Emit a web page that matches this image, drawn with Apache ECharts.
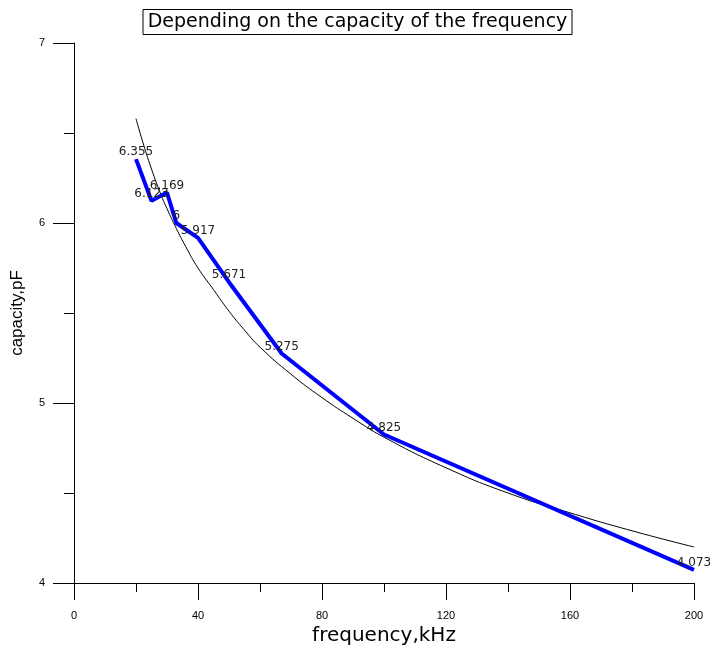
<!DOCTYPE html>
<html>
<head>
<meta charset="utf-8">
<script src="https://cdn.jsdelivr.net/npm/echarts@6/dist/echarts.min.js"></script>
<style>html,body{margin:0;padding:0;background:#fff}#c{width:715px;height:648px}</style>
</head>
<body>
<div id="c"></div>
<script>
// measured data (blue)
const freq = [20, 25, 30, 33, 40, 50, 67, 100, 200];
const capacity = [6.355, 6.123, 6.169, 6, 5.917, 5.671, 5.275, 4.825, 4.073];
// fitted curve (black)
const fitFreq = [20, 22, 25, 28, 30, 33, 36, 40, 45, 50, 55, 60, 70, 80, 90, 100, 120, 140, 160, 180, 200];
const fitCap = [6.58, 6.46, 6.30, 6.16, 6.08, 5.97, 5.87, 5.75, 5.63, 5.51, 5.405, 5.31, 5.16, 5.03, 4.915, 4.81, 4.64, 4.50, 4.39, 4.29, 4.20];
const xTicks = [0, 40, 80, 120, 160, 200];
const yTicks = [4, 5, 6, 7];

const arial = 'Liberation Sans, Arial, sans-serif';
const wide = 'DejaVu Sans, sans-serif';
const chart = echarts.init(document.getElementById('c'), null, {renderer: 'canvas'});
chart.setOption({
  animation: false,
  backgroundColor: '#fff',
  title: {
    text: 'Depending on the capacity of the frequency',
    left: 'center',
    top: 9,
    padding: [4, 5, 3, 5],
    borderColor: '#000',
    borderWidth: 1,
    textStyle: {fontFamily: wide, fontSize: 19, fontWeight: 'normal', color: '#000'}
  },
  grid: {left: 74, right: 21, top: 43, bottom: 65, containLabel: false, outerBoundsMode: 'none'},
  xAxis: {
    type: 'value', min: xTicks[0], max: xTicks[xTicks.length - 1], interval: 40,
    name: 'frequency,kHz', nameLocation: 'middle', nameGap: 41,
    nameTextStyle: {fontFamily: wide, fontSize: 20, color: '#000'},
    axisLine: {show: true, lineStyle: {color: '#000', width: 1}},
    axisTick: {show: true, length: 17, lineStyle: {color: '#000'}},
    minorTick: {show: true, splitNumber: 2, length: 9, lineStyle: {color: '#000'}},
    splitLine: {show: false},
    axisLabel: {margin: 27, fontFamily: arial, fontSize: 11, color: '#000'}
  },
  yAxis: {
    type: 'value', min: yTicks[0], max: yTicks[yTicks.length - 1], interval: 1,
    name: 'capacity,pF', nameLocation: 'middle', nameGap: 48,
    nameTextStyle: {fontFamily: arial, fontSize: 17, color: '#000'},
    axisLine: {show: true, lineStyle: {color: '#000', width: 1}},
    axisTick: {show: true, length: 21, lineStyle: {color: '#000'}},
    minorTick: {show: true, splitNumber: 2, length: 10, lineStyle: {color: '#000'}},
    splitLine: {show: false},
    axisLabel: {margin: 29, fontFamily: arial, fontSize: 11, color: '#000'}
  },
  series: [
    {
      type: 'line', data: fitFreq.map((f, i) => [f, fitCap[i]]),
      smooth: true, showSymbol: false, symbol: 'none',
      lineStyle: {color: '#000', width: 1}, z: 1, silent: true
    },
    {
      type: 'line', data: freq.map((f, i) => [f, capacity[i]]),
      showSymbol: true, symbol: 'circle', symbolSize: 0.1,
      itemStyle: {color: '#0000ff'},
      lineStyle: {color: '#0000ff', width: 4}, z: 2,
      label: {show: true, position: 'top', distance: 1, fontFamily: wide, fontSize: 12, color: '#222',
        formatter: p => String(p.value[1])},
      labelLayout: {hideOverlap: false}
    }
  ]
});
</script>
</body>
</html>
